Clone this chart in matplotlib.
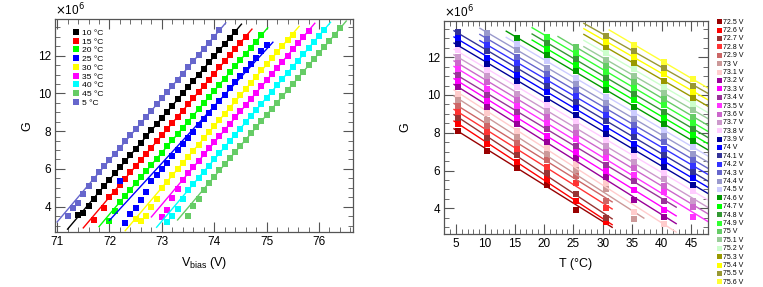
import numpy as np
import matplotlib
matplotlib.use("Agg")
import matplotlib.pyplot as plt
from matplotlib.lines import Line2D
from matplotlib.ticker import MultipleLocator

plt.rcParams['font.family'] = ['Liberation Sans', 'DejaVu Sans']

# bias voltage grid (V) used by the measurement
VBIAS = [71.2, 71.3, 71.4, 71.5, 71.6, 71.7, 71.8, 71.9, 72.0, 72.1,
         72.2, 72.3, 72.4, 72.5, 72.6, 72.7, 72.8, 72.9, 73.0, 73.1,
         73.2, 73.3, 73.4, 73.5, 73.6, 73.7, 73.8, 73.9, 74.0, 74.1,
         74.2, 74.3, 74.4, 74.5, 74.6, 74.7, 74.8, 74.9, 75.0, 75.1,
         75.2, 75.3, 75.4, 75.5, 75.6, 75.7, 75.8, 75.9, 76.0, 76.1,
         76.2, 76.3, 76.4]

# nominal temperature label, measured temperature, first voltage
temp_labels = ["10 °C", "15 °C", "20 °C", "25 °C", "30 °C", "35 °C", "40 °C", "45 °C", "5 °C"]
temp_meas = [10.4, 15.5, 20.5, 25.5, 30.5, 35.4, 40.4, 45.4, 5.4]
v_first = [71.4, 71.7, 72.0, 72.2, 72.5, 73.0, 73.1, 73.5, 71.2]

# gain (x1e6), one value per 0.1 V step starting at v_first
g_10 = [3.58, 3.64, 4.06, 4.40, 4.77, 5.10, 5.43, 5.76, 6.08, 6.41, 6.74, 7.06, 7.39, 7.72,
        8.04, 8.37, 8.70, 9.03, 9.35, 9.68, 10.01, 10.33, 10.66, 10.99, 11.31, 11.64, 11.97,
        12.30, 12.62, 12.95, 13.28]
g_15 = [3.32, None, 3.91, 4.51, 4.77, 5.17, 5.49, 5.82, 6.15, 6.47, 6.80, 7.13, 7.46, 7.78,
        8.11, 8.44, 8.76, 9.09, 9.42, 9.74, 10.07, 10.40, 10.73, 11.05, 11.38, 11.71, 12.03,
        12.36, 12.69, 13.01]
g_20 = [3.26, 3.77, 4.25, 4.58, 4.91, 5.23, 5.56, 5.89, 6.21, 6.54, 6.87, 7.19, 7.52, 7.85,
        8.18, 8.50, 8.83, 9.16, 9.48, 9.81, 10.14, 10.46, 10.79, 11.12, 11.45, 11.77, 12.10,
        12.43, 12.75, 13.08]
g_25 = [5.35, 3.15, 3.60, 3.93, 4.38, 4.78, 5.36, 5.69, 6.02, 6.34, 6.67, 7.00, 7.32, 7.65,
        7.98, 8.31, 8.63, 8.96, 9.29, 9.61, 9.94, 10.27, 10.59, 10.92, 11.25, 11.58, 11.90,
        12.23, 12.56]
g_30 = [3.36, 3.26, 3.50, 4.00, 4.41, 5.00, 5.33, 5.66, 5.98, 6.31, 6.64, 6.97, 7.29, 7.62,
        7.95, 8.27, 8.60, 8.93, 9.25, 9.58, 9.91, 10.24, 10.56, 10.89, 11.22, 11.54, 11.87,
        12.20, 12.52, 12.82, 13.10]
g_35 = [3.44, 3.82, 4.45, 4.95, 5.43, 5.79, 6.11, 6.44, 6.77, 7.10, 7.42, 7.75, 8.08, 8.40,
        8.73, 9.06, 9.38, 9.71, 10.04, 10.37, 10.69, 11.02, 11.35, 11.67, 12.00, 12.33, 12.65,
        12.98, 13.31]
g_40 = [3.17, 3.52, 3.90, 4.40, 4.87, 5.20, 5.53, 5.85, 6.18, 6.51, 6.83, 7.16, 7.49, 7.82,
        8.14, 8.47, 8.80, 9.12, 9.45, 9.78, 10.10, 10.43, 10.76, 11.09, 11.41, 11.74, 12.07,
        12.39, 12.72, 13.05, 13.37]
g_45 = [3.52, 4.05, 4.40, 4.90, 5.26, 5.59, 5.92, 6.25, 6.57, 6.90, 7.23, 7.55, 7.88, 8.21,
        8.53, 8.86, 9.19, 9.51, 9.84, 10.17, 10.50, 10.82, 11.15, 11.48, 11.80, 12.13, 12.46,
        12.78, 13.11, 13.44]
g_05 = [3.50, 3.95, 4.20, 4.66, 5.10, 5.49, 5.82, 6.15, 6.47, 6.80, 7.13, 7.46, 7.78, 8.11,
        8.44, 8.76, 9.09, 9.42, 9.74, 10.07, 10.40, 10.73, 11.05, 11.38, 11.71, 12.03, 12.36,
        12.69, 13.01, 13.34]
gains = [g_10, g_15, g_20, g_25, g_30, g_35, g_40, g_45, g_05]
temp_colors = ["#000000", "#ff0000", "#00ff00", "#0000ff", "#ffff00",
               "#ff00ff", "#00ffff", "#66cc66", "#6666cc"]

# voltages shown on the right panel
v_right = [72.5, 72.6, 72.7, 72.8, 72.9, 73.0, 73.1, 73.2, 73.3, 73.4, 73.5,
           73.6, 73.7, 73.8, 73.9, 74.0, 74.1, 74.2, 74.3, 74.4, 74.5, 74.6,
           74.7, 74.8, 74.9, 75.0, 75.1, 75.2, 75.3, 75.4, 75.5, 75.6]
v_labels = ["72.5 V", "72.6 V", "72.7 V", "72.8 V", "72.9 V", "73 V", "73.1 V",
            "73.2 V", "73.3 V", "73.4 V", "73.5 V", "73.6 V", "73.7 V", "73.8 V",
            "73.9 V", "74 V", "74.1 V", "74.2 V", "74.3 V", "74.4 V", "74.5 V",
            "74.6 V", "74.7 V", "74.8 V", "74.9 V", "75 V", "75.1 V", "75.2 V",
            "75.3 V", "75.4 V", "75.5 V", "75.6 V"]
v_colors = ["#990000", "#ff0000", "#993333", "#ff3333", "#cc6666", "#cc9999", "#ffcccc",
            "#990099", "#ff00ff", "#993399", "#ff33ff", "#cc66cc", "#cc99cc", "#ffccff",
            "#000099", "#0000ff", "#333399", "#3333ff", "#6666cc", "#9999cc", "#ccccff",
            "#009900", "#00ff00", "#339933", "#33ff33", "#66cc66", "#99cc99", "#ccffcc",
            "#999900", "#ffff00", "#999933", "#ffff33"]


def series(i):
    start = VBIAS.index(v_first[i])
    v, g = [], []
    for k, val in enumerate(gains[i]):
        if val is not None:
            v.append(VBIAS[start + k])
            g.append(val)
    return np.array(v), np.array(g)


def style_axes(ax, pad):
    ax.tick_params(which="both", direction="in", top=True, right=True,
                   labelsize=8.5, pad=3, color="#555555")
    ax.tick_params(which="major", length=7)
    ax.tick_params(which="minor", length=3.5)
    for s in ax.spines.values():
        s.set_color("#555555")
        s.set_linewidth(0.9)
    ax.yaxis.set_major_locator(MultipleLocator(2))
    ax.yaxis.set_minor_locator(MultipleLocator(0.5))
    ax.set_ylim(2.65, 13.93)
    ax.text(0.0, 1.004, r"$\times$10$^{6}$", transform=ax.transAxes,
            fontsize=8.5, ha="left", va="bottom")
    ax.set_ylabel("G", fontsize=9, labelpad=pad)


fig = plt.figure(figsize=(7.63, 2.87), dpi=100)
ax1 = fig.add_axes([0.0721, 0.191, 0.3906, 0.742])
ax2 = fig.add_axes([0.5819, 0.185, 0.346, 0.743])

# left: gain vs bias for every temperature
handles = []
for i in range(len(gains)):
    v, g = series(i)
    sel = g > 4.8
    p = np.polyfit(v[sel], g[sel], 1)
    vl = np.array([v.min() - 0.2, v.max() + 0.12])
    ax1.plot(vl, np.polyval(p, vl), color=temp_colors[i], lw=1.0)
    ax1.plot(v, g, "s", color=temp_colors[i], ms=3.7, mew=0)
    handles.append(Line2D([], [], ls="", marker="s", color=temp_colors[i], ms=4.2, mew=0))

ax1.set_xlim(70.96, 76.65)
ax1.xaxis.set_major_locator(MultipleLocator(1))
ax1.xaxis.set_minor_locator(MultipleLocator(0.2))
style_axes(ax1, 3)
ax1.set_xlabel(r"V$_{\mathregular{bias}}$ (V)", fontsize=9, labelpad=5)
ax1.legend(handles, temp_labels, loc="upper left", bbox_to_anchor=(0.06, 0.955),
           frameon=False, fontsize=6.1, handlelength=0.7, handletextpad=0.35,
           labelspacing=0.1, borderpad=0, borderaxespad=0)

# right: gain vs temperature for every bias voltage
all_series = [series(i) for i in range(len(gains))]
handles2 = []
for j, vr in enumerate(v_right):
    tt, gg = [], []
    for i, (v, g) in enumerate(all_series):
        hit = np.where(np.isclose(v, vr))[0]
        if len(hit):
            tt.append(temp_meas[i])
            gg.append(g[hit[0]])
    order = np.argsort(tt)
    tt = np.array(tt)[order]
    gg = np.array(gg)[order]
    p = np.polyfit(tt, gg, 1)
    t0 = tt.min() - (0.7 + 0.12 * (tt.min() - 5.4))
    t1 = tt.max() + max(1.0, 1.1 + 0.1 * (tt.max() - 30.5))
    tl = np.array([t0, t1])
    ax2.plot(tl, np.polyval(p, tl), color=v_colors[j], lw=1.0)
    ax2.plot(tt, gg, "s", color=v_colors[j], ms=3.7, mew=0)
    handles2.append(Line2D([], [], ls="", marker="s", color=v_colors[j], ms=3.6, mew=0))

ax2.set_xlim(3.0, 47.9)
ax2.xaxis.set_major_locator(MultipleLocator(5))
ax2.xaxis.set_minor_locator(MultipleLocator(1))
style_axes(ax2, 11)
ax2.set_xlabel("T (°C)", fontsize=9, labelpad=6)
fig.legend(handles2, v_labels, loc="upper left", bbox_to_anchor=(0.94, 0.935),
           frameon=False, fontsize=5.0, handlelength=0.6, handletextpad=0.3,
           labelspacing=0.2, borderpad=0, borderaxespad=0)

fig.savefig("out.png", dpi=100)
